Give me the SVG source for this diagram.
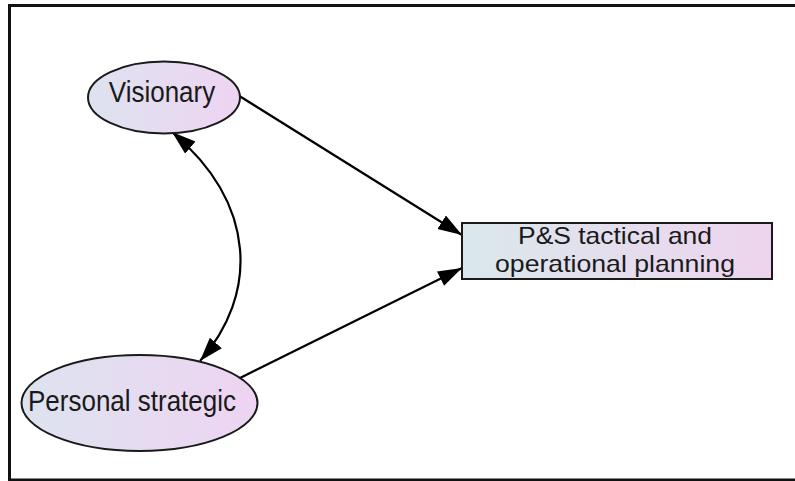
<svg xmlns="http://www.w3.org/2000/svg" width="795" height="481" viewBox="0 0 795 481">
  <style>
    .node { stroke: #1a1a1a; stroke-width: 2; }
    .lbl { font-family: "Liberation Sans", Arial, sans-serif; font-size: 26px; fill: #1a1a1a; text-anchor: middle; }
    .lbl-box { font-family: "Liberation Sans", Arial, sans-serif; font-size: 24px; fill: #1a1a1a; text-anchor: middle; }
    .edge { fill: none; stroke: #000; stroke-width: 2.2; }
  </style>
  <defs>
    <linearGradient id="gEllipse" x1="0" y1="0" x2="1" y2="0">
      <stop offset="0" stop-color="#dde3ef"/>
      <stop offset="1" stop-color="#eed4f2"/>
    </linearGradient>
    <linearGradient id="gRect" x1="0" y1="0" x2="1" y2="0">
      <stop offset="0" stop-color="#dae8ec"/>
      <stop offset="1" stop-color="#eed4ee"/>
    </linearGradient>
    <marker id="arrow" markerUnits="userSpaceOnUse" markerWidth="26" markerHeight="18" refX="24" refY="8" orient="auto-start-reverse">
      <path d="M0,0 L24,8 L0,16 z" fill="#000"/>
    </marker>
  </defs>

  <!-- outer frame -->
  <rect x="9.5" y="5.5" width="800" height="474.5" fill="#fff" stroke="#111" stroke-width="3"/>

  <!-- connectors -->
  <g id="edges">
    <path class="edge" d="M233,92 L462,235" marker-end="url(#arrow)"/>
    <path class="edge" d="M240,378 L462,268" marker-end="url(#arrow)"/>
    <path class="edge" d="M172,132 C258,205 258,295 200,361" marker-start="url(#arrow)" marker-end="url(#arrow)"/>
  </g>

  <!-- nodes -->
  <g id="visionary">
    <ellipse class="node" cx="164" cy="97.5" rx="76" ry="36" fill="url(#gEllipse)"/>
    <text class="lbl" transform="translate(162,102) scale(1,1.12)">Visionary</text>
  </g>

  <g id="personal-strategic">
    <ellipse class="node" cx="139.5" cy="403" rx="118" ry="48" fill="url(#gEllipse)"/>
    <text class="lbl" transform="translate(132,411) scale(1,1.12)">Personal strategic</text>
  </g>

  <g id="ps-planning">
    <rect class="node" x="462" y="223" width="310" height="56" fill="url(#gRect)"/>
    <text class="lbl-box" x="615" y="244" textLength="194" lengthAdjust="spacingAndGlyphs">P&amp;S tactical and</text>
    <text class="lbl-box" x="615" y="272" textLength="240" lengthAdjust="spacingAndGlyphs">operational planning</text>
  </g>
</svg>
